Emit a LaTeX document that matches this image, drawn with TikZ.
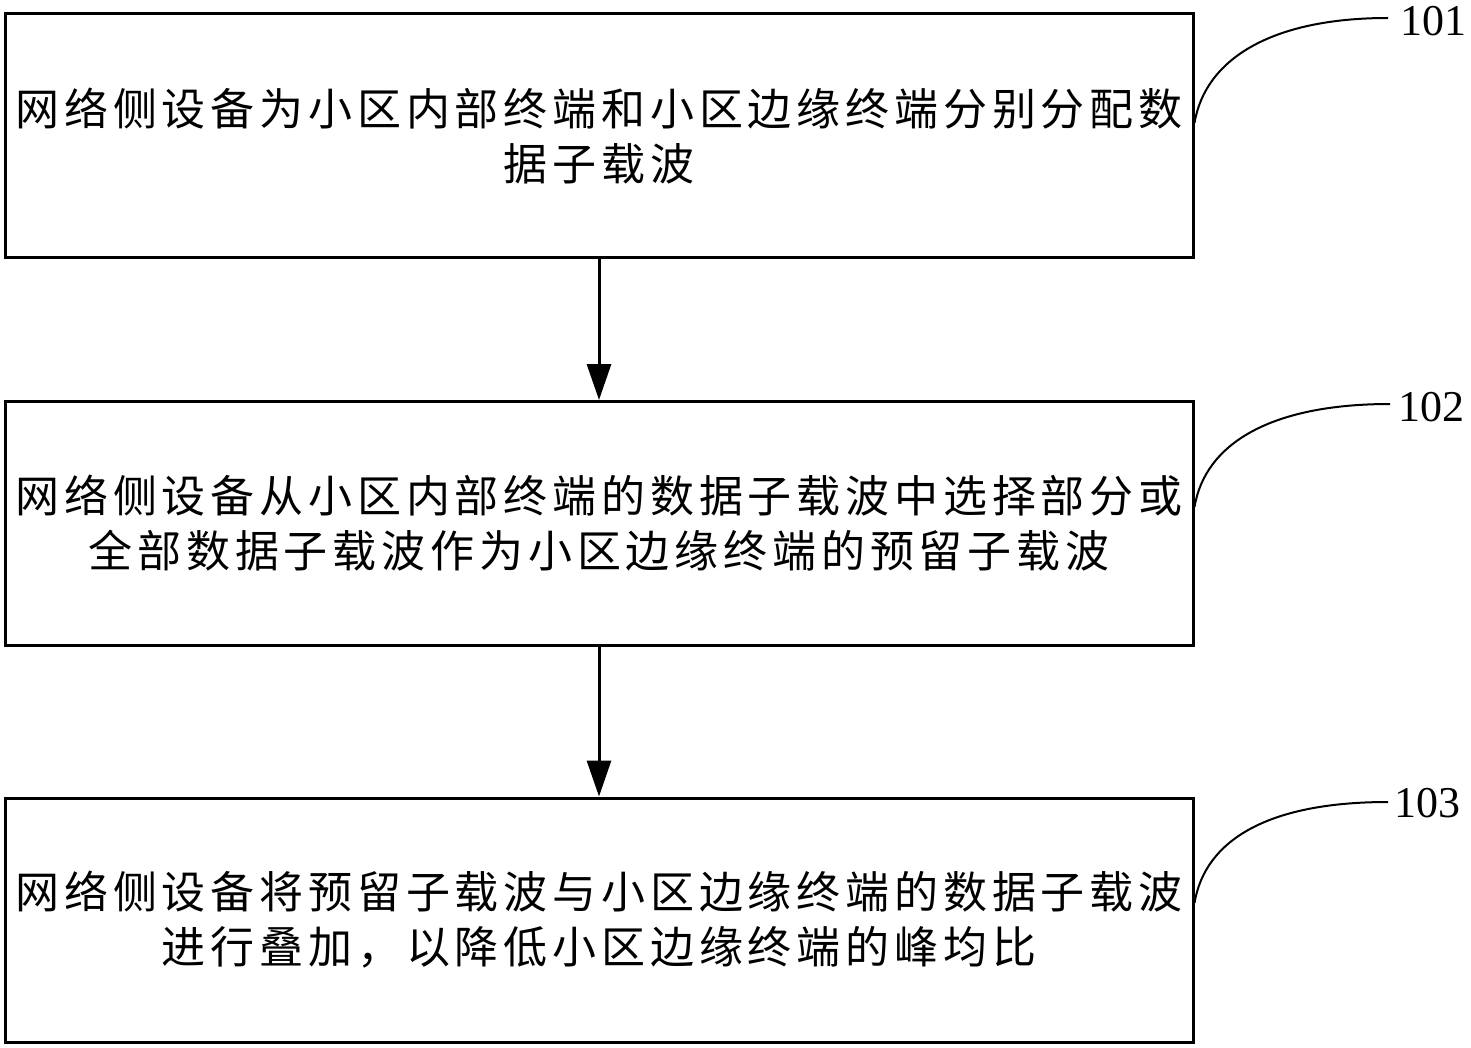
\documentclass[tikz,border=0pt]{standalone}
\usepackage{fontspec}
\setmainfont{Liberation Serif}
\newfontfamily\cjk[LetterSpace=11]{Noto Sans CJK SC}
\usetikzlibrary{arrows.meta,positioning}

\tikzset{
 stepbox/.style={draw, line width=3pt, minimum width=1188pt, minimum height=244pt, inner sep=0pt, align=center, font=\cjk\fontsize{44}{55}\selectfont},
 flow/.style={line width=3pt, -{Triangle[length=36pt,width=24pt]}},
 callout/.style={line width=2pt},
 tag/.style={font=\fontsize{44}{44}\selectfont, anchor=west, inner sep=0pt}
}

\begin{document}
\begin{tikzpicture}[x=1pt,y=-1pt]
 \useasboundingbox (0,0) rectangle (1471,1048);
 % the three steps
 \node[stepbox] (step1) at (599,136) {网络侧设备为小区内部终端和小区边缘终端分别分配数\\据子载波};
 \node[stepbox] (step2) at (599,523.5) {网络侧设备从小区内部终端的数据子载波中选择部分或\\全部数据子载波作为小区边缘终端的预留子载波};
 \node[stepbox] (step3) at (599,920) {网络侧设备将预留子载波与小区边缘终端的数据子载波\\进行叠加，以降低小区边缘终端的峰均比};
 \draw[flow] (step1) -- (step2);
 \draw[flow] (step2) -- (step3);
 % reference numbers
 \coordinate (end1) at (1388,18);
 \coordinate (end2) at (1390,404);
 \coordinate (end3) at (1388,802);
 \node[tag] (lab101) at (1400,21) {101};
 \node[tag] (lab102) at (1398,407) {102};
 \node[tag] (lab103) at (1394,803) {103};
 \draw[callout] (step1.east |- 0,123) .. controls (1205,60) and (1270,18) .. (end1);
 \draw[callout] (step2.east |- 0,507) .. controls (1205,444) and (1270,404) .. (end2);
 \draw[callout] (step3.east |- 0,903) .. controls (1205,840) and (1268,802) .. (end3);
\end{tikzpicture}
\end{document}
